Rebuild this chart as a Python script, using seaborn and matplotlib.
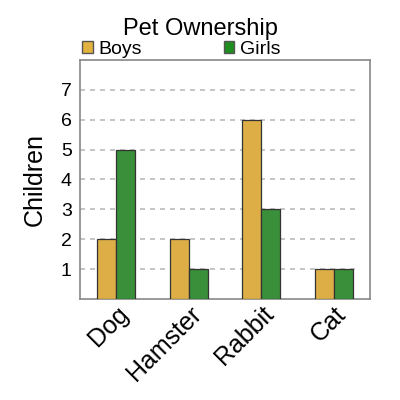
import matplotlib
matplotlib.use("Agg")
import matplotlib.pyplot as plt
import seaborn as sns
import pandas as pd
from matplotlib.patches import Patch

pets = ["Dog", "Hamster", "Rabbit", "Cat"]
boys = [2, 2, 6, 1]
girls = [5, 1, 3, 1]
groups = ["Boys", "Girls"]
yticks = [1, 2, 3, 4, 5, 6, 7]

df = pd.DataFrame({
    "pet": pets * 2,
    "count": boys + girls,
    "group": ["Boys"] * len(pets) + ["Girls"] * len(pets),
})

sns.set_style("white")
plt.rcParams["font.family"] = ["Liberation Sans", "DejaVu Sans"]
plt.rcParams["text.color"] = "black"
plt.rcParams["axes.labelcolor"] = "black"
plt.rcParams["xtick.color"] = "black"
plt.rcParams["ytick.color"] = "black"

bar_colors = {"Boys": "#DDAE46", "Girls": "#3A8F3A"}
legend_colors = {"Boys": "#E2B23E", "Girls": "#1F8E1F"}

fig = plt.figure(figsize=(4, 4), dpi=100)
ax = fig.add_axes([0.2, 0.2525, 0.725, 0.5975])

sns.barplot(data=df, x="pet", y="count", hue="group", order=pets,
            hue_order=groups, palette=bar_colors, saturation=1,
            width=0.52, gap=0, edgecolor="#333333", linewidth=0.9,
            legend=False, ax=ax, zorder=3)

ax.set_ylim(0, 8)
ax.set_xlim(-0.5, 3.5)
ax.set_yticks(yticks)
ax.tick_params(axis="y", labelsize=14, length=0, pad=6)
ax.tick_params(axis="x", labelsize=18, length=0, pad=2)
for lbl in ax.get_xticklabels():
    lbl.set_rotation(45)
    lbl.set_ha("right")
    lbl.set_rotation_mode("anchor")

# dashed guide lines, stopping short of the right frame
for y in yticks:
    ax.axhline(y, xmin=0, xmax=0.965, color="#bbbbbb", linewidth=1.2,
               dashes=(3, 3), zorder=0)
for s in ax.spines.values():
    s.set_color("#888888")
    s.set_linewidth(1.2)

ax.set_xlabel("")
ax.set_ylabel("Children", fontsize=18, labelpad=10)
fig.text(0.5, 0.928, "Pet Ownership", fontsize=17, ha="center", va="center")

handles = [Patch(facecolor=legend_colors[g], edgecolor="#555555", label=g) for g in groups]
ax.legend(handles=handles, loc="lower left", bbox_to_anchor=(0, 1),
          ncol=2, frameon=False, borderaxespad=0.1,
          borderpad=0, handlelength=0.55, handleheight=0.55,
          handletextpad=0.3, columnspacing=4.2, fontsize=14)

fig.savefig("out.png", dpi=100)
